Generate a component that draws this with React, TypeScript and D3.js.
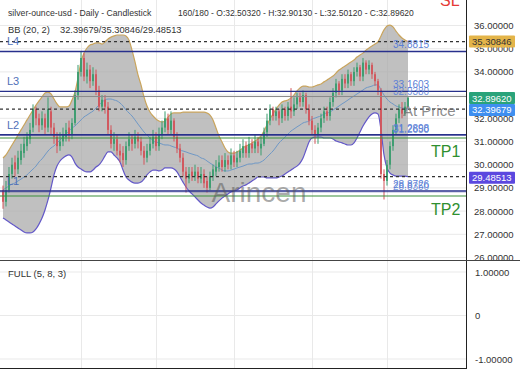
import React from "react";
import * as d3 from "d3";

const closeV = [28.4,28.9,29.6,30.0,29.8,30.3,30.6,30.9,31.2,31.5, 32.4,32.0,31.7,32.0,31.6,32.4,31.6,31.2,30.8,31.0, 31.3,31.5,31.3,31.8,33.0,34.0,34.6,33.8,34.1,33.6, 33.9,33.2,32.5,32.8,32.5,31.5,30.9,31.1,30.6,30.4, 30.2,30.8,31.1,30.9,31.2,31.0,30.6,30.3,30.6,30.9, 31.2,30.8,31.3,31.6,32.0,31.5,31.9,31.2,30.7,30.3, 29.7,29.4,29.6,29.5,29.7,29.4,29.6,29.2,29.0,29.5, 29.8,29.9,30.1,29.9,30.2,30.0,30.4,30.1,30.3,30.6, 30.8,30.5,30.9,30.7,31.0,30.8,30.9,31.4,31.9,32.4, 32.1,32.3,32.0,32.4,32.1,32.5,32.3,32.6,32.9,32.7, 33.0,32.4,31.9,31.5,31.3,31.6,32.0,32.3,32.1,32.7, 33.1,33.5,33.2,33.7,33.5,33.9,33.6,34.0,34.2,33.8, 34.4,34.1,34.3,33.9,33.6,33.2,29.6,29.3,30.0,30.8, 31.5,32.0,32.4,32.2,32.5,32.8962];
const openV = [28.9,28.4,28.9,29.6,30.1,29.8,30.2,30.5,30.8,31.1, 31.6,32.4,32.0,31.7,32.0,31.6,32.3,31.6,31.2,30.8, 31.0,31.2,31.6,31.3,31.8,33.0,34.0,34.6,33.8,34.1, 33.6,33.9,33.2,32.5,32.8,32.5,31.5,30.9,31.1,30.6, 30.5,30.2,30.8,31.1,30.9,31.2,31.0,30.6,30.3,30.6, 30.9,31.2,30.8,31.3,31.6,32.0,31.5,31.9,31.2,30.7, 30.3,29.7,29.4,29.7,29.5,29.7,29.4,29.6,29.3,29.0, 29.5,29.7,29.9,30.2,29.9,30.2,30.0,30.4,30.1,30.3, 30.5,30.8,30.5,30.9,30.7,31.0,30.7,30.9,31.4,31.9, 32.4,32.1,32.3,32.0,32.4,32.1,32.5,32.3,32.6,32.9, 32.7,33.0,32.4,31.9,31.5,31.3,31.6,32.0,32.3,32.1, 32.7,33.1,33.5,33.2,33.7,33.5,33.9,33.6,34.0,34.2, 33.8,34.4,34.1,34.3,33.9,33.6,33.2,29.6,29.3,30.0, 30.8,31.5,32.0,32.4,32.2,32.5032];
const highV = [29.1,29.3,29.9,30.3,30.4,30.6,30.9,31.2,31.4,31.8, 32.6,32.5,32.2,32.3,32.2,32.9,32.5,31.8,31.4,31.4, 31.6,31.8,31.9,32.0,33.2,34.3,34.9,34.8,34.4,34.3, 34.2,34.1,33.4,33.0,33.0,32.7,31.7,31.4,31.3,30.9, 30.8,31.0,31.4,31.3,31.5,31.4,31.2,30.8,30.9,31.2, 31.5,31.4,31.6,31.9,32.3,32.2,32.3,32.0,31.4,30.9, 30.5,29.9,29.9,29.9,30.0,29.9,29.9,29.8,29.5,29.7, 30.0,30.2,30.4,30.4,30.5,30.4,30.7,30.6,30.6,30.9, 31.1,31.0,31.2,31.1,31.3,31.2,31.2,31.6,32.2,32.6, 32.5,32.5,32.4,32.6,32.5,32.7,33.3,32.9,33.1,33.1, 33.2,33.1,32.6,32.1,31.7,31.8,32.2,32.5,32.5,32.9, 33.3,33.7,33.6,33.9,33.9,34.1,34.0,34.2,34.4,34.3, 34.6,34.5,34.5,34.4,34.0,33.7,33.3,29.8,30.2,31.0, 31.7,32.2,32.6,32.7,32.7,32.9013];
const lowV = [28.1,28.2,28.8,29.4,29.5,29.6,30.0,30.3,30.6,30.9, 31.4,31.7,31.4,31.5,31.3,31.4,31.3,30.9,30.5,30.6, 30.8,31.0,31.0,31.1,31.7,32.8,33.8,33.6,33.5,33.3, 33.4,33.0,32.3,32.3,32.2,31.3,30.7,30.6,30.4,30.1, 29.9,30.0,30.6,30.6,30.7,30.7,30.4,30.0,30.1,30.4, 30.7,30.6,30.6,31.1,31.4,31.3,31.3,31.0,30.5,30.1, 29.5,28.8,29.2,29.3,29.3,29.2,29.2,29.0,28.8,28.9, 29.3,29.5,29.7,29.7,29.7,29.8,29.8,29.9,29.9,30.1, 30.3,30.3,30.3,30.5,30.5,30.5,30.4,30.8,31.2,31.7, 31.9,31.9,31.7,31.8,31.9,31.9,32.0,32.1,32.4,32.5, 32.5,32.2,31.7,31.3,30.9,30.9,31.4,31.8,31.9,31.9, 32.5,32.9,33.0,33.0,33.3,33.3,33.4,33.4,33.8,33.6, 33.6,33.9,33.9,33.7,33.4,33.0,29.4,28.5,29.1,29.8, 30.6,31.3,31.8,32.0,32.1,32.5012];

const bbUpper = [30.29,30.42,30.63,30.85,31.06,31.28,31.50,31.71,31.93,32.14, 32.36,32.57,32.75,32.92,33.09,33.13,33.05,32.83,32.62,32.49, 32.49,32.49,32.53,32.79,33.13,33.74,34.43,34.81,35.03,35.16, 35.20,35.25,35.25,35.20,35.29,35.42,35.50,35.55,35.59,35.59, 35.59,35.55,35.37,34.94,34.43,33.87,33.44,32.92,32.53,32.27, 32.10,31.97,31.88,31.84,31.88,32.05,32.19,32.23,32.23,32.23, 32.27,32.27,32.27,32.27,32.27,32.27,32.27,32.27,32.23,32.14, 31.93,31.58,31.24,30.98,30.72,30.55,30.50,30.50,30.55,30.63, 30.72,30.81,30.85,30.94,31.02,31.11,31.24,31.45,31.71,31.97, 32.19,32.40,32.57,32.70,32.75,32.79,32.88,33.00,33.18,33.31, 33.39,33.39,33.35,33.35,33.39,33.44,33.48,33.57,33.65,33.74, 33.82,33.95,34.08,34.17,34.25,34.34,34.43,34.51,34.64,34.73, 34.81,34.94,35.03,35.12,35.20,35.29,35.55,35.81,35.98,36.02, 35.94,35.76,35.59,35.46,35.37,35.30846];
const bbLower = [27.70,27.62,27.53,27.44,27.36,27.27,27.19,27.10,27.06,27.06, 27.10,27.23,27.44,27.70,28.05,28.48,29.00,29.56,29.94,30.16, 30.29,30.38,30.42,30.33,30.07,29.90,29.81,29.73,29.69,29.69, 29.77,29.90,29.99,30.16,30.38,30.55,30.55,30.42,30.29,30.12, 29.77,29.47,29.34,29.25,29.21,29.21,29.25,29.38,29.56,29.69, 29.77,29.77,29.73,29.77,29.86,29.86,29.86,29.81,29.69,29.47, 29.25,29.04,28.87,28.74,28.61,28.48,28.35,28.26,28.18,28.13, 28.18,28.31,28.44,28.56,28.65,28.74,28.82,28.87,28.91,29.00, 29.08,29.13,29.21,29.30,29.38,29.47,29.47,29.47,29.43,29.43, 29.43,29.43,29.47,29.51,29.60,29.69,29.77,29.86,29.94,30.07, 30.29,30.63,30.98,31.15,31.19,31.19,31.19,31.15,31.15,31.15, 31.11,31.02,30.98,30.94,30.89,30.85,30.85,30.94,31.15,31.41, 31.67,31.88,32.06,32.19,32.23,32.19,31.50,30.42,29.86,29.64, 29.56,29.51,29.51,29.51,29.51,29.48513];
const bbMid = [28.91,29.00,29.08,29.17,29.21,29.30,29.38,29.47,29.56,29.69, 29.81,29.94,30.12,30.25,30.42,30.59,30.72,30.81,30.94,31.06, 31.19,31.32,31.45,31.58,31.67,31.80,31.93,32.06,32.14,32.23, 32.31,32.44,32.57,32.70,32.79,32.83,32.83,32.79,32.75,32.66, 32.53,32.36,32.23,32.10,31.93,31.75,31.58,31.41,31.28,31.15, 31.02,30.98,30.94,30.89,30.85,30.85,30.81,30.76,30.72,30.63, 30.59,30.55,30.50,30.46,30.42,30.38,30.29,30.25,30.16,30.07, 29.99,29.90,29.86,29.77,29.73,29.73,29.77,29.81,29.86,29.90, 29.94,29.99,30.03,30.03,30.07,30.07,30.12,30.20,30.33,30.46, 30.59,30.76,30.94,31.06,31.19,31.32,31.45,31.54,31.63,31.71, 31.80,31.84,31.88,31.97,32.01,32.06,32.10,32.19,32.23,32.27, 32.36,32.44,32.53,32.62,32.70,32.79,32.88,32.96,33.05,33.13, 33.22,33.31,33.35,33.39,33.44,33.44,33.22,33.00,32.83,32.70, 32.62,32.53,32.49,32.44,32.44,32.39679];

const levelNames = ["L4", "L3", "L2", "L1"];
const levelValues = [34.8815, 33.1603, 31.2898, 28.8726];
const extraLevelValues = [32.938, 31.265, 28.835];
const tpNames = ["TP1", "TP2"];
const tpValues = [31.15, 28.65];
const bbLast = [35.30846, 32.39679, 29.48513];
const priceTicks = [26, 27, 28, 29, 30, 31, 32, 33, 34, 35, 36];
const oscTicks = [1, 0, -1];
const oscTickLabels = ["1.00000", "0", "-1.00000"];
const vGridIdx = [26, 51, 77, 103, 128];

const FONT = "'Liberation Sans', Arial, sans-serif";

export default function App() {
  const N = closeV.length;
  const PR = 466;
  const x = d3.scaleLinear().domain([0, N - 1]).range([3, 408]);
  const y = d3.scaleLinear().domain([26, 36]).range([257.5, 25.5]);
  const yo = d3.scaleLinear().domain([-1, 1]).range([359, 272]);
  const idx = d3.range(N);

  const area = d3.area<number>().x((i) => x(i)).y0((i) => y(bbLower[i])).y1((i) => y(bbUpper[i])).curve(d3.curveMonotoneX);
  const upLine = d3.line<number>().x((i) => x(i)).y((i) => y(bbUpper[i])).curve(d3.curveMonotoneX);
  const loLine = d3.line<number>().x((i) => x(i)).y((i) => y(bbLower[i])).curve(d3.curveMonotoneX);
  const midLine = d3.line<number>().x((i) => x(i)).y((i) => y(bbMid[i])).curve(d3.curveMonotoneX);

  const bull = "#3a9d6e";
  const bear = "#d2545a";
  const navy = "#28308c";
  const lvlText = "#5b7fd6";

  const tags = [
    { v: bbLast[0], label: "35.30846", bg: "#e3b449", fg: "#333", dy: 0 },
    { v: closeV[N - 1], label: "32.89620", bg: "#2aa37a", fg: "#fff", dy: 0.5 },
    { v: bbLast[1], label: "32.39679", bg: "#3f8ff0", fg: "#fff", dy: 0.8 },
    { v: bbLast[2], label: "29.48513", bg: "#5b48df", fg: "#fff", dy: 1 },
  ];

  return (
    <svg width={520} height={390} style={{ position: "absolute", left: 0, top: 0, background: "#fff" }} fontFamily={FONT}>
      <defs>
        <clipPath id="mainClip"><rect x={0} y={0} width={PR} height={260} /></clipPath>
        <clipPath id="axisClip"><rect x={PR} y={0} width={54} height={260} /></clipPath>
      </defs>
      <rect x={0} y={0} width={520} height={390} fill="#fff" />
      <g clipPath="url(#mainClip)">
        {priceTicks.map((t) => (
          <line key={"hg" + t} x1={0} x2={PR} y1={y(t)} y2={y(t)} stroke="#e9e9e9" strokeWidth={1} />
        ))}
      </g>
      {vGridIdx.map((k) => (
        <line key={"vg" + k} x1={Math.round(x(k)) + 0.5} x2={Math.round(x(k)) + 0.5} y1={0} y2={369} stroke="#e9e9e9" strokeWidth={1} />
      ))}
      {oscTicks.map((t) => (
        <line key={"og" + t} x1={0} x2={PR} y1={yo(t)} y2={yo(t)} stroke="#e9e9e9" strokeWidth={1} />
      ))}

      <g clipPath="url(#mainClip)">
        <path d={area(idx) || ""} fill="#a8a8a8" fillOpacity={0.72} />
        <path d={upLine(idx) || ""} fill="none" stroke="#c9a45c" strokeWidth={1.2} />
        <path d={loLine(idx) || ""} fill="none" stroke="#6358c8" strokeWidth={1.2} />
        <path d={midLine(idx) || ""} fill="none" stroke="#6f98c6" strokeWidth={1} />

        {idx.map((i) => {
          const o = openV[i], c = closeV[i];
          const col = c >= o ? bull : bear;
          const cx = x(i);
          const top = y(Math.max(o, c));
          const h = Math.max(1, y(Math.min(o, c)) - top);
          return (
            <g key={"c" + i}>
              <line x1={cx} x2={cx} y1={y(highV[i])} y2={y(lowV[i])} stroke={col} strokeWidth={1} />
              <rect x={cx - 0.9} y={top} width={1.8} height={h} fill={col} />
            </g>
          );
        })}

        {bbLast.map((v, k) => (
          <line key={"bd" + k} x1={0} x2={PR} y1={y(v)} y2={y(v)} stroke="#333" strokeWidth={1.2} strokeDasharray="3,3" />
        ))}
        <line x1={0} x2={PR} y1={y(extraLevelValues[0])} y2={y(extraLevelValues[0])} stroke="#8a8a8a" strokeWidth={1} />
        <line x1={0} x2={PR} y1={y(extraLevelValues[1])} y2={y(extraLevelValues[1])} stroke={navy} strokeWidth={0.8} strokeOpacity={0.6} />
        <line x1={0} x2={PR} y1={y(extraLevelValues[2])} y2={y(extraLevelValues[2])} stroke={navy} strokeWidth={1.2} strokeOpacity={0.7} />
        {levelValues.map((v, k) => (
          <g key={"lv" + k}>
            <line x1={0} x2={PR} y1={y(v)} y2={y(v)} stroke={navy} strokeWidth={1.4} />
            <text x={7} y={y(v) - 6} fontSize={11} fill="#4f6fb8">{levelNames[k]}</text>
            <text x={393} y={y(v) - 3} fontSize={10} fill={lvlText}>{v.toFixed(4)}</text>
          </g>
        ))}
        {extraLevelValues.map((v, k) => (
          <text key={"el" + k} x={393} y={y(v) - 2} fontSize={10} fill={lvlText} fillOpacity={0.85}>{v.toFixed(4)}</text>
        ))}
        {tpValues.map((v, k) => (
          <g key={"tp" + k}>
            <line x1={0} x2={PR} y1={y(v)} y2={y(v)} stroke="#3a8d3a" strokeWidth={1.2} />
            <text x={431} y={y(v) + 19} fontSize={16} fill="#2f8f2f">{tpNames[k]}</text>
          </g>
        ))}
        <text x={440} y={6} fontSize={16} fill="#e53935">SL</text>
        <text x={403} y={116} fontSize={15} fill="#777" fillOpacity={0.85}>At Price</text>
        <text x={259} y={202} fontSize={28} fill="#555" fillOpacity={0.5} textAnchor="middle">Arincen</text>
      </g>

      <line x1={PR + 0.5} x2={PR + 0.5} y1={0} y2={369} stroke="#222" strokeWidth={1} />
      <line x1={0} x2={520} y1={260.5} y2={260.5} stroke="#444" strokeWidth={1} />
      <line x1={0} x2={PR} y1={368.5} y2={368.5} stroke="#222" strokeWidth={1} />

      <g clipPath="url(#axisClip)">
        {priceTicks.map((t) => (
          <text key={"pt" + t} x={474} y={y(t) + 3.5} fontSize={9.5} fill="#333">{t.toFixed(5)}</text>
        ))}
        {tags.map((tg, k) => (
          <g key={"tag" + k}>
            <rect x={469} y={y(tg.v) - 6 + tg.dy} width={46} height={12} fill={tg.bg} rx={1} />
            <text x={472} y={y(tg.v) + 3.5 + tg.dy} fontSize={9.5} fill={tg.fg}>{tg.label}</text>
          </g>
        ))}
      </g>
      {oscTicks.map((t, k) => (
        <text key={"ot" + t} x={475} y={yo(t) + 3.5} fontSize={9.5} fill="#333">{oscTickLabels[k]}</text>
      ))}

      <text x={8} y={16} fontSize={8.7} fill="#333">silver-ounce-usd - Daily - Candlestick</text>
      <text x={178} y={16} fontSize={8.5} fill="#333">160/180 - O:32.50320 - H:32.90130 - L:32.50120 - C:32.89620</text>
      <text x={8} y={33} fontSize={9.3} fill="#333">BB (20, 2)</text>
      <text x={60} y={33} fontSize={9.3} fill="#333">32.39679/35.30846/29.48513</text>
      <text x={8} y={277} fontSize={9.5} fill="#333">FULL (5, 8, 3)</text>
    </svg>
  );
}
